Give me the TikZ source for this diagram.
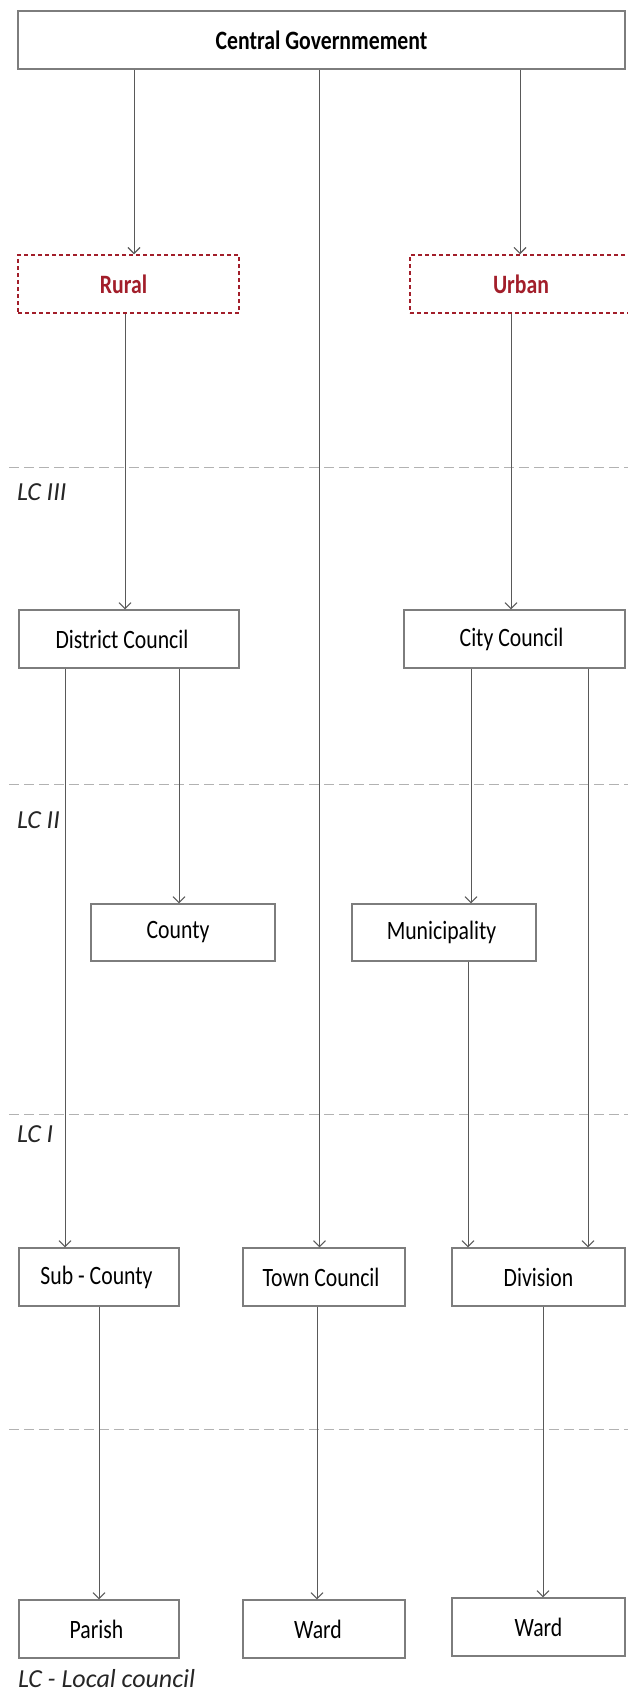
\documentclass[tikz,border=0pt]{standalone}
\usepackage{fontspec}
\setmainfont{Carlito}[FakeStretch=0.82]
\newfontfamily\lcfont{Carlito}
\usetikzlibrary{arrows.meta}
\usepackage{xcolor}
\definecolor{areared}{RGB}{162,30,42}
\definecolor{boxgray}{RGB}{125,125,125}

\begin{document}
\begin{tikzpicture}[x=1pt,y=-1pt,
    every node/.style={font=\fontsize{26.5}{30}\selectfont},
    box/.style={draw=boxgray,line width=1.1pt,minimum height=58pt,inner sep=0pt},
    area/.style={draw=areared,line width=1.5pt,dash pattern=on 4pt off 3pt,
        minimum height=58pt,inner sep=0pt,text=areared,font=\fontsize{26.5}{30}\selectfont\bfseries},
    link/.style={draw=black!65,line width=0.9pt,-{Straight Barb[length=6pt,width=12pt,line width=1.1pt]}},
    level/.style={draw=black!30,line width=1pt,dash pattern=on 10pt off 5pt},
    lclabel/.style={anchor=base west,inner sep=0pt,text=black!85,font=\lcfont\fontsize{26}{30}\selectfont\itshape}]

    \useasboundingbox (0,0) rectangle (628,1697);

    % levels
    \foreach \y in {467,784,1114,1429}
        \draw[level] (9,\y) -- (628,\y);
    \node[lclabel] (lc3) at (17,500) {LC III};
    \node[lclabel] (lc2) at (17,828) {LC II};
    \node[lclabel] (lc1) at (17,1142) {LC I};
    \node[lclabel] (lcnote) at (18,1687) {LC - Local council};

    % boxes
    \node[box,minimum width=607pt,font=\fontsize{26.5}{30}\selectfont\bfseries] (central) at (321.5,40) {Central Governmement};
    \node[area,minimum width=221pt] (rural) at (128.5,284) {Rural\kern10pt};
    \node[area,minimum width=222pt] (urban) at (521,284) {Urban};

    \node[box,minimum width=220pt] (district) at (129,639) {District Council\kern14pt};
    \node[box,minimum width=221pt] (city) at (514.5,639) {City Council\kern6pt};

    \node[box,minimum width=184pt,minimum height=57pt] (county) at (183,932.5) {County\kern10pt};
    \node[box,minimum width=184pt,minimum height=57pt] (munic) at (444,932.5) {Municipality\kern5pt};

    \node[box,minimum width=160pt] (subcounty) at (99,1277) {Sub - County\kern5pt};
    \node[box,minimum width=162pt] (town) at (324,1277) {Town Council\kern6pt};
    \node[box,minimum width=173pt] (division) at (538.5,1277) {Division};

    \node[box,minimum width=160pt] (parish) at (99,1629) {Parish\kern5pt};
    \node[box,minimum width=162pt] (ward1) at (324,1629) {Ward\kern12pt};
    \node[box,minimum width=173pt] (ward2) at (538.5,1627) {Ward};

    % links
    \draw[link] ([xshift=5.5pt]rural.north |- central.south) -- ([xshift=5.5pt]rural.north);
    \draw[link] ([xshift=-4.5pt]town.north |- central.south) -- ([xshift=-4.5pt]town.north);
    \draw[link] ([xshift=-1pt]urban.north |- central.south) -- ([xshift=-1pt]urban.north);

    \draw[link] ([xshift=-4pt]district.north |- rural.south) -- ([xshift=-4pt]district.north);
    \draw[link] ([xshift=-3.5pt]city.north |- urban.south) -- ([xshift=-3.5pt]city.north);

    \draw[link] ([xshift=-34pt]subcounty.north |- district.south) -- ([xshift=-34pt]subcounty.north);
    \draw[link] ([xshift=-4pt]county.north |- district.south) -- ([xshift=-4pt]county.north);
    \draw[link] ([xshift=27pt]munic.north |- city.south) -- ([xshift=27pt]munic.north);
    \draw[link] ([xshift=49.5pt]division.north |- city.south) -- ([xshift=49.5pt]division.north);
    \draw[link] ([xshift=24pt]munic.south) -- ([xshift=24pt]munic.south |- division.north);

    \draw[link] (subcounty.south) -- (parish.north);
    \draw[link] ([xshift=-7pt]town.south) -- ([xshift=-7pt]town.south |- ward1.north);
    \draw[link] ([xshift=4.5pt]division.south) -- ([xshift=4.5pt]division.south |- ward2.north);

\end{tikzpicture}
\end{document}
